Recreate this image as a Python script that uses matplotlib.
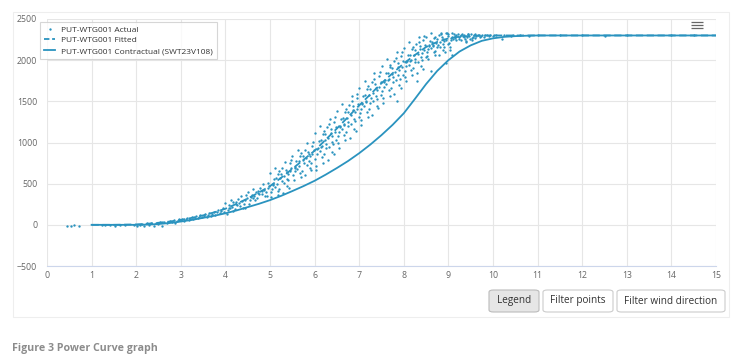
import matplotlib
matplotlib.use("Agg")
import matplotlib.pyplot as plt
from matplotlib.patches import FancyBboxPatch, Rectangle
from matplotlib.lines import Line2D

plt.rcParams['font.family'] = ['Open Sans', 'DejaVu Sans']

# ---------------- data ----------------
fitted_wind = [1.0, 1.5, 2.0, 2.25, 2.5, 2.75, 3.0, 3.25, 3.5, 3.75, 4.0, 4.25, 4.5, 4.75,
               5.0, 5.25, 5.5, 5.75, 6.0, 6.25, 6.5, 6.75, 7.0, 7.25, 7.5, 7.75, 8.0,
               8.25, 8.5, 8.75, 9.0, 9.25, 9.5, 9.75, 10.0, 11.0, 12.0, 13.0, 14.0, 15.0]
fitted_power = [0, 0, 5, 13, 25, 40, 60, 85, 115, 152, 195, 255, 320, 393,
                470, 572, 680, 790, 900, 1035, 1170, 1310, 1450, 1585, 1720, 1842, 1960,
                2063, 2160, 2222, 2265, 2285, 2295, 2299, 2300, 2300, 2300, 2300, 2300, 2300]

contract_wind = [1.0, 1.5, 2.0, 2.25, 2.5, 2.75, 3.0, 3.25, 3.5, 3.75, 4.0, 4.25, 4.5, 4.75,
                 5.0, 5.25, 5.5, 5.75, 6.0, 6.25, 6.5, 6.75, 7.0, 7.25, 7.5, 7.75, 8.0,
                 8.25, 8.5, 8.75, 9.0, 9.25, 9.5, 9.75, 10.0, 10.25, 10.5, 10.75, 11.0,
                 12.0, 13.0, 14.0, 15.0]
contract_power = [0, 0, 0, 3, 10, 22, 40, 60, 85, 110, 140, 175, 215, 255,
                  300, 352, 410, 470, 535, 610, 690, 775, 870, 975, 1090, 1215, 1355,
                  1530, 1710, 1870, 2000, 2105, 2180, 2235, 2265, 2283, 2292, 2297, 2300,
                  2300, 2300, 2300, 2300]

actual_points = [
    (0.45, -10), (0.53, -10), (0.61, -8), (0.72, -10),
    (1.24, -5), (1.31, -8), (1.42, -6), (1.52, -10), (1.63, -4), (1.76, -8), (1.94, -6), (2.02, -9),
    (2.08, 2), (2.13, 14), (2.18, -10), (2.24, 18), (2.29, 4), (2.33, 22), (2.39, -14), (2.44, 28),
    (2.48, 10), (2.53, 33), (2.58, -18), (2.63, 38), (2.68, 22),
    (2.71, 30), (2.76, 45), (2.80, 40), (2.84, 55), (2.87, 20), (2.91, 50), (2.96, 65),
    (3.00, 55), (3.03, 70), (3.07, 45), (3.11, 65), (3.14, 80), (3.18, 55),
    (3.20, 75), (3.24, 95), (3.27, 70), (3.31, 85), (3.35, 105), (3.38, 80),
    (3.40, 100), (3.43, 120), (3.47, 90), (3.52, 110), (3.55, 130), (3.58, 100),
    (3.61, 120), (3.64, 145), (3.68, 110), (3.70, 135), (3.74, 160), (3.77, 125),
    (3.81, 150), (3.84, 175), (3.88, 140), (3.90, 170), (3.94, 200), (3.97, 150),
    # 4.0 - 4.9
    (4.07, 207), (4.03, 132), (4.00, 269), (4.05, 181), (4.09, 237),
    (4.11, 199), (4.18, 273), (4.15, 216), (4.12, 306), (4.17, 174),
    (4.24, 277), (4.26, 236), (4.21, 191), (4.28, 308), (4.23, 252),
    (4.32, 231), (4.37, 289), (4.34, 351), (4.39, 210), (4.31, 268),
    (4.45, 299), (4.41, 248), (4.48, 321), (4.43, 207), (4.46, 363),
    (4.57, 332), (4.53, 257), (4.50, 394), (4.55, 306), (4.59, 362),
    (4.61, 329), (4.68, 403), (4.65, 346), (4.62, 436), (4.67, 304),
    (4.74, 412), (4.76, 371), (4.71, 326), (4.78, 443), (4.73, 387),
    (4.82, 371), (4.87, 429), (4.84, 491), (4.89, 350), (4.81, 408),
    (4.95, 444), (4.91, 393), (4.98, 466), (4.93, 352), (4.96, 508),
    # 5.0 - 5.9
    (5.07, 496), (5.03, 335), (5.00, 628), (5.05, 440), (5.09, 560), (5.02, 399), (5.06, 481),
    (5.11, 465), (5.18, 623), (5.15, 502), (5.12, 694), (5.17, 412), (5.14, 563), (5.19, 360),
    (5.24, 623), (5.26, 536), (5.21, 439), (5.28, 690), (5.23, 570), (5.29, 390), (5.20, 653),
    (5.32, 512), (5.37, 636), (5.34, 768), (5.39, 467), (5.31, 591), (5.36, 670), (5.38, 557),
    (5.45, 648), (5.41, 539), (5.48, 696), (5.43, 452), (5.46, 786), (5.40, 617), (5.44, 745),
    (5.57, 706), (5.53, 545), (5.50, 838), (5.55, 650), (5.59, 770), (5.52, 609), (5.56, 691),
    (5.61, 680), (5.68, 838), (5.65, 717), (5.62, 909), (5.67, 627), (5.64, 778), (5.69, 575),
    (5.74, 838), (5.76, 751), (5.71, 654), (5.78, 905), (5.73, 785), (5.79, 605), (5.70, 868),
    (5.82, 732), (5.87, 856), (5.84, 988), (5.89, 687), (5.81, 811), (5.86, 890), (5.88, 777),
    (5.95, 863), (5.91, 754), (5.98, 911), (5.93, 667), (5.96, 1001), (5.90, 832), (5.94, 960),
    # 6.0 - 7.9
    (6.07, 935), (6.03, 720), (6.00, 1110), (6.05, 860), (6.09, 1020), (6.02, 805), (6.06, 915), (6.04, 660),
    (6.11, 895), (6.18, 1105), (6.15, 945), (6.12, 1200), (6.17, 825), (6.14, 1025), (6.19, 755), (6.16, 960),
    (6.24, 1100), (6.26, 985), (6.21, 855), (6.28, 1190), (6.23, 1030), (6.29, 790), (6.20, 1140), (6.25, 935),
    (6.32, 950), (6.37, 1115), (6.34, 1290), (6.39, 890), (6.31, 1055), (6.36, 1160), (6.38, 1010), (6.33, 1220),
    (6.45, 1125), (6.41, 980), (6.48, 1190), (6.43, 865), (6.46, 1310), (6.40, 1085), (6.44, 1255), (6.49, 1030),
    (6.57, 1205), (6.53, 990), (6.50, 1380), (6.55, 1130), (6.59, 1290), (6.52, 1075), (6.56, 1185), (6.54, 930),
    (6.61, 1165), (6.68, 1375), (6.65, 1215), (6.62, 1470), (6.67, 1095), (6.64, 1295), (6.69, 1025), (6.66, 1230),
    (6.74, 1370), (6.76, 1255), (6.71, 1125), (6.78, 1460), (6.73, 1300), (6.79, 1060), (6.70, 1410), (6.75, 1205),
    (6.82, 1230), (6.87, 1395), (6.84, 1570), (6.89, 1170), (6.81, 1335), (6.86, 1440), (6.88, 1290), (6.83, 1500),
    (6.95, 1405), (6.91, 1260), (6.98, 1470), (6.93, 1145), (6.96, 1590), (6.90, 1365), (6.94, 1535), (6.99, 1310),
    (7.07, 1485), (7.03, 1270), (7.00, 1660), (7.05, 1410), (7.09, 1570), (7.02, 1355), (7.06, 1465), (7.04, 1210),
    (7.11, 1445), (7.18, 1655), (7.15, 1495), (7.12, 1750), (7.17, 1375), (7.14, 1575), (7.19, 1305), (7.16, 1510),
    (7.24, 1650), (7.26, 1535), (7.21, 1405), (7.28, 1740), (7.23, 1580), (7.29, 1340), (7.20, 1690), (7.25, 1485),
    (7.32, 1500), (7.37, 1665), (7.34, 1840), (7.39, 1440), (7.31, 1605), (7.36, 1710), (7.38, 1560), (7.33, 1770),
    (7.45, 1675), (7.41, 1530), (7.48, 1740), (7.43, 1415), (7.46, 1860), (7.40, 1635), (7.44, 1805), (7.49, 1580),
    (7.57, 1755), (7.53, 1540), (7.50, 1930), (7.55, 1680), (7.59, 1840), (7.52, 1625), (7.56, 1735), (7.54, 1480),
    (7.61, 1710), (7.68, 1920), (7.65, 1760), (7.62, 2015), (7.67, 1640), (7.64, 1840), (7.69, 1570), (7.66, 1775),
    (7.74, 1905), (7.76, 1790), (7.71, 1660), (7.78, 1995), (7.73, 1835), (7.79, 1595), (7.70, 1945), (7.75, 1740),
    (7.82, 1755), (7.87, 1920), (7.84, 2095), (7.89, 1695), (7.81, 1860), (7.86, 1965), (7.88, 1815), (7.83, 2025),
    (7.95, 1920), (7.91, 1775), (7.98, 1985), (7.93, 1660), (7.96, 2105), (7.90, 1880), (7.94, 2050), (7.99, 1825),
    # 8.0 - 8.4
    (8.07, 1992), (8.03, 1798), (8.00, 2149), (8.05, 1924), (8.09, 2068), (8.02, 1874), (8.06, 1974), (8.04, 1744),
    (8.11, 1946), (8.18, 2135), (8.15, 1991), (8.12, 2221), (8.17, 1883), (8.14, 2063), (8.19, 1820), (8.16, 2005),
    (8.24, 2121), (8.26, 2017), (8.21, 1900), (8.28, 2202), (8.23, 2058), (8.29, 1842), (8.20, 2157), (8.25, 1972),
    (8.32, 1981), (8.37, 2130), (8.34, 2287), (8.39, 1927), (8.31, 2075), (8.36, 2170), (8.38, 2035), (8.33, 2224),
    (8.45, 2129), (8.41, 1998), (8.48, 2188), (8.43, 1895), (8.46, 2296), (8.40, 2093), (8.44, 2246), (8.49, 2043),
    # 8.5 - 9.0
    (8.57, 2181), (8.53, 2052), (8.50, 2286), (8.55, 2136), (8.59, 2232), (8.52, 2103), (8.56, 2169), (8.54, 2016),
    (8.61, 2144), (8.68, 2270), (8.65, 2174), (8.62, 2325), (8.67, 2102), (8.64, 2222), (8.69, 2060), (8.66, 2183),
    (8.74, 2254), (8.76, 2185), (8.71, 2107), (8.78, 2308), (8.73, 2212), (8.79, 2068), (8.70, 2278), (8.75, 2155),
    (8.82, 2159), (8.87, 2258), (8.84, 2325), (8.89, 2123), (8.81, 2222), (8.86, 2285), (8.88, 2195), (8.83, 2321),
    (8.95, 2251), (8.91, 2164), (8.98, 2290), (8.93, 2095), (8.96, 2325), (8.90, 2227), (8.94, 2325), (8.99, 2194),
    (9.07, 2286), (9.03, 2157), (9.00, 2320), (9.05, 2241), (9.09, 2325), (9.02, 2208), (9.06, 2274), (9.04, 2121),
    # outliers
    (7.85, 1500), (8.30, 1750), (8.62, 1870), (8.95, 1960), (9.08, 2060),
    # 9.1 - 9.5
    (9.11, 2260), (9.18, 2310), (9.15, 2273), (9.12, 2312), (9.17, 2242), (9.14, 2293),
    (9.24, 2254), (9.26, 2296), (9.21, 2312), (9.28, 2239), (9.23, 2281), (9.29, 2307),
    (9.32, 2291), (9.37, 2254), (9.34, 2307), (9.39, 2225), (9.31, 2312), (9.36, 2280),
    (9.45, 2312), (9.41, 2286), (9.48, 2253), (9.43, 2312), (9.46, 2297), (9.40, 2237),
    (9.57, 2304), (9.53, 2250), (9.50, 2312), (9.55, 2285), (9.59, 2312), (9.52, 2271),
    # upper plateau
    (9.60, 2270), (9.63, 2290), (9.66, 2300), (9.68, 2310),
    (9.70, 2280), (9.73, 2295), (9.76, 2300), (9.80, 2285), (9.83, 2300), (9.86, 2305),
    (9.90, 2290), (9.93, 2300), (10.00, 2290), (10.03, 2300), (10.06, 2305),
    (10.20, 2260), (10.25, 2300), (10.40, 2295), (10.45, 2300), (10.60, 2300), (10.80, 2295),
    (11.00, 2300), (11.50, 2300), (12.00, 2300), (12.50, 2295), (13.00, 2300), (14.00, 2300), (14.50, 2300),
]
actual_wind = [p[0] for p in actual_points]
actual_power = [p[1] for p in actual_points]

x_ticks = list(range(0, 16))
y_ticks = [-500, 0, 500, 1000, 1500, 2000, 2500]
series_names = ["PUT-WTG001 Actual", "PUT-WTG001 Fitted", "PUT-WTG001 Contractual (SWT23V108)"]
buttons = ["Legend", "Filter points", "Filter wind direction"]
caption = "Figure 3 Power Curve graph"

# ---------------- figure ----------------
W, H = 733, 362
fig = plt.figure(figsize=(W / 100, H / 100), dpi=100)
fig.patch.set_facecolor('white')

def fx(px):
    return px / W

def fy(py):
    return 1 - py / H

# container border
fig.patches.append(Rectangle((fx(13), fy(317)), fx(729) - fx(13), fy(12) - fy(317),
                             transform=fig.transFigure, facecolor='none',
                             edgecolor='#eeeeee', linewidth=0.8, zorder=0))

ax = fig.add_axes([fx(47), fy(266), fx(716) - fx(47), fy(19) - fy(266)])
ax.set_xlim(0, 15)
ax.set_ylim(-500, 2500)
ax.set_xticks(x_ticks)
ax.set_yticks(y_ticks)
ax.grid(True, color='#e6e6e6', linewidth=0.8)
ax.set_axisbelow(True)
for s in ['top', 'right', 'left']:
    ax.spines[s].set_visible(False)
ax.spines['bottom'].set_color('#ccd6eb')
ax.spines['bottom'].set_linewidth(0.8)
ax.tick_params(axis='both', length=0, labelsize=6.3, labelcolor='#666666')
ax.tick_params(axis='y', pad=7)
ax.tick_params(axis='x', pad=3.5)

color = '#2a93bf'
ax.plot(actual_wind, actual_power, linestyle='none', marker='o', markersize=1.7,
        markeredgewidth=0, color=color, zorder=3)
ax.plot(fitted_wind, fitted_power, linestyle=(0, (4, 2)), linewidth=1.3, color=color, zorder=4)
ax.plot(contract_wind, contract_power, linestyle='-', linewidth=1.3, color=color, zorder=4)

handles = [
    Line2D([], [], linestyle='none', marker='o', markersize=1.7, markeredgewidth=0, color=color),
    Line2D([], [], linestyle=(0, (3, 1.5)), linewidth=1.3, color=color),
    Line2D([], [], linestyle='-', linewidth=1.3, color=color),
]
leg = fig.legend(handles, series_names, loc='upper left',
                 bbox_to_anchor=(fx(40), fy(22)), fontsize=6.0,
                 handlelength=1.4, handletextpad=0.7, labelspacing=0.35,
                 borderpad=0.45, frameon=True, fancybox=False, borderaxespad=0)
leg.get_frame().set_edgecolor('#cccccc')
leg.get_frame().set_linewidth(0.8)
for t in leg.get_texts():
    t.set_color('#333333')

# menu icon
for yy in [21.5, 24.5, 27.5]:
    fig.add_artist(Line2D([fx(690.5), fx(702.5)], [fy(yy), fy(yy)], transform=fig.transFigure,
                          color='#666666', linewidth=0.9, solid_capstyle='butt'))

# buttons
btn_boxes = [(489, 539), (543, 613), (617, 725)]
for (x0, x1), label in zip(btn_boxes, buttons):
    pressed = label == "Legend"
    p = FancyBboxPatch((fx(x0), fy(312)), fx(x1) - fx(x0), fy(290) - fy(312),
                       boxstyle="round,pad=0,rounding_size=0.006",
                       transform=fig.transFigure,
                       facecolor='#e6e6e6' if pressed else 'white',
                       edgecolor='#bbbbbb' if pressed else '#cccccc', linewidth=0.8)
    fig.patches.append(p)
    fig.text(fx((x0 + x1) / 2), fy(301), label, ha='center', va='center',
             fontsize=7.2, color='#333333')

fig.text(fx(12), fy(349), caption, ha='left', va='center', fontsize=7.7,
         fontweight='bold', color='#8c8c8c')

fig.savefig('out.png', dpi=100, facecolor='white')
